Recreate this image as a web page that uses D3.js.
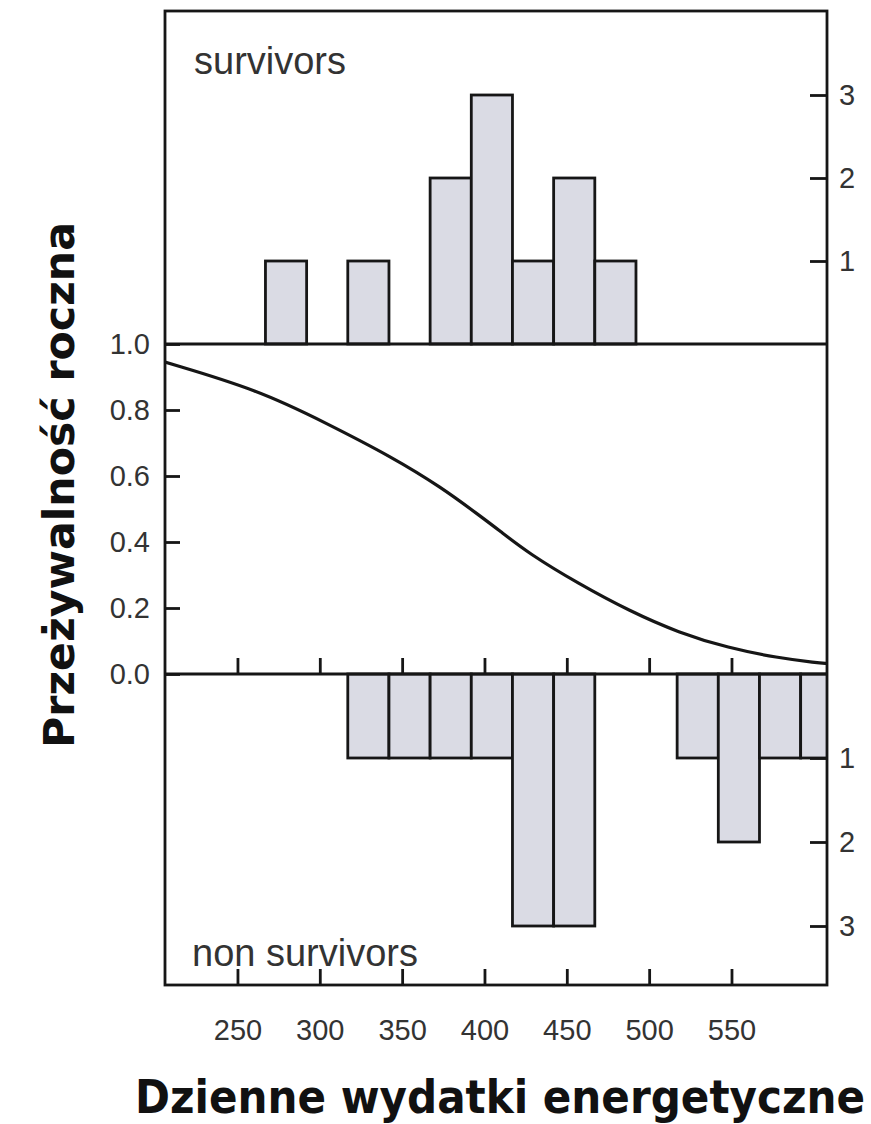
<!DOCTYPE html>
<html>
<head>
<meta charset="utf-8">
<script src="https://cdn.jsdelivr.net/npm/d3@7"></script>
<style>
  body { margin: 0; background: #fff; }
  svg { display: block; }
</style>
</head>
<body>
<svg id="chart" width="871" height="1124"></svg>
<script>
let width = 871, height = 1124;

// bins of 25 units, lower edge
let survStarts = [267, 292, 317, 342, 367, 392, 417, 442, 467];
let survCounts = [1, 0, 1, 0, 2, 3, 1, 2, 1];

let nonStarts = [317, 342, 367, 392, 417, 442, 467, 492, 517, 542, 567, 592];
let nonCounts = [1, 1, 1, 1, 3, 3, 0, 0, 1, 2, 1, 1];
let binWidth = 25;

// survival curve
let curveX = [206, 263, 304, 344, 374, 397, 409, 427, 457, 488, 518, 548, 578, 602, 608];
let curveY = [0.945, 0.86, 0.76, 0.657, 0.565, 0.48, 0.435, 0.365, 0.274, 0.191, 0.125, 0.079, 0.049, 0.034, 0.032];

let xTicks = [250, 300, 350, 400, 450, 500, 550];
let survTicks = [0, 0.2, 0.4, 0.6, 0.8, 1.0];
let countTicks = [1, 2, 3];

let frameL = 165, frameR = 827, frameT = 11, frameB = 985;
let midTop = 344, midBottom = 674;

let ink = "#161616", grey = "#333333";
let tickFont = "'Liberation Sans', Arial, sans-serif";

let svg = d3.select('#chart');

let x = d3.scaleLinear().domain([206, 608]).range([frameL, frameR]);
let yTop = d3.scaleLinear().domain([0, 3]).range([midTop, 95]);
let yMid = d3.scaleLinear().domain([0, 1]).range([midBottom, midTop]);
let yBot = d3.scaleLinear().domain([0, 3]).range([midBottom, 926]);

svg.append('clipPath').attr('id', 'frameclip')
  .append('rect')
  .attr('x', frameL).attr('y', frameT)
  .attr('width', frameR - frameL).attr('height', frameB - frameT);

let plot = svg.append('g').attr('clip-path', 'url(#frameclip)');

// survivors (upward)
plot.append('g')
  .selectAll('rect')
  .data(survStarts.map((s, i) => ({start: s, n: survCounts[i]})).filter(d => d.n > 0))
  .enter().append('rect')
  .attr('x', d => x(d.start))
  .attr('y', d => yTop(d.n))
  .attr('width', d => x(d.start + binWidth) - x(d.start))
  .attr('height', d => yTop(0) - yTop(d.n))
  .attr('fill', '#dadbe4')
  .attr('stroke', ink)
  .attr('stroke-width', 2.8);

// non survivors (downward)
plot.append('g')
  .selectAll('rect')
  .data(nonStarts.map((s, i) => ({start: s, n: nonCounts[i]})).filter(d => d.n > 0))
  .enter().append('rect')
  .attr('x', d => x(d.start))
  .attr('y', yBot(0))
  .attr('width', d => x(d.start + binWidth) - x(d.start))
  .attr('height', d => yBot(d.n) - yBot(0))
  .attr('fill', '#dadbe4')
  .attr('stroke', ink)
  .attr('stroke-width', 2.8);

// survival curve
let line = d3.line()
  .x((d, i) => x(curveX[i]))
  .y(d => yMid(d))
  .curve(d3.curveBasis);

plot.append('path')
  .datum(curveY)
  .attr('d', line)
  .attr('fill', 'none')
  .attr('stroke', ink)
  .attr('stroke-width', 3.2);

// panel separators
[midTop, midBottom].forEach(function(yy) {
  svg.append('line')
    .attr('x1', frameL).attr('x2', frameR)
    .attr('y1', yy).attr('y2', yy)
    .attr('stroke', ink).attr('stroke-width', 3.2);
});

// frame
svg.append('rect')
  .attr('x', frameL).attr('y', frameT)
  .attr('width', frameR - frameL).attr('height', frameB - frameT)
  .attr('fill', 'none')
  .attr('stroke', ink)
  .attr('stroke-width', 2.8);

function styleAxis(g) {
  g.select('.domain').remove();
  g.attr('font-family', tickFont).attr('font-size', 29);
  g.selectAll('.tick line').attr('stroke', ink).attr('stroke-width', 2.8);
  g.selectAll('.tick text').attr('fill', grey);
}

// left axis of the survival panel
svg.append('g')
  .attr('transform', 'translate(' + frameL + ',0)')
  .call(d3.axisLeft(yMid).tickValues(survTicks).tickFormat(d3.format('.1f')).tickSize(-15).tickPadding(15))
  .call(styleAxis);

// ticks at the bottom of the survival panel (no labels)
svg.append('g')
  .attr('transform', 'translate(0,' + midBottom + ')')
  .call(d3.axisBottom(x).tickValues(xTicks).tickFormat('').tickSize(-16))
  .call(styleAxis);

// bottom x axis
svg.append('g')
  .attr('transform', 'translate(0,' + frameB + ')')
  .call(d3.axisBottom(x).tickValues(xTicks).tickSize(-16).tickPadding(34))
  .call(styleAxis);

// right count axes
svg.append('g')
  .attr('transform', 'translate(' + frameR + ',0)')
  .call(d3.axisRight(yTop).tickValues(countTicks).tickFormat(d3.format('d')).tickSize(-17).tickPadding(12))
  .call(styleAxis);

svg.append('g')
  .attr('transform', 'translate(' + frameR + ',0)')
  .call(d3.axisRight(yBot).tickValues(countTicks).tickFormat(d3.format('d')).tickSize(-17).tickPadding(12))
  .call(styleAxis);

// panel labels
svg.append('text')
  .attr('x', 194).attr('y', 74)
  .attr('font-family', tickFont).attr('font-size', 38)
  .attr('fill', grey)
  .text('survivors');

svg.append('text')
  .attr('x', 192).attr('y', 966)
  .attr('font-family', tickFont).attr('font-size', 38)
  .attr('fill', grey)
  .text('non survivors');

// axis titles
svg.append('text')
  .attr('transform', 'translate(74,485) rotate(-90)')
  .attr('text-anchor', 'middle')
  .attr('font-family', "'DejaVu Sans', Verdana, sans-serif")
  .attr('font-weight', 'bold')
  .attr('font-size', 43)
  .attr('textLength', 526)
  .attr('lengthAdjust', 'spacingAndGlyphs')
  .attr('fill', '#111')
  .text('Przeżywalność roczna');

svg.append('text')
  .attr('x', 500).attr('y', 1113)
  .attr('text-anchor', 'middle')
  .attr('font-family', "'DejaVu Sans Condensed', 'DejaVu Sans', sans-serif")
  .attr('font-stretch', 'condensed')
  .attr('font-weight', 'bold')
  .attr('font-size', 47)
  .attr('textLength', 730)
  .attr('lengthAdjust', 'spacingAndGlyphs')
  .attr('fill', '#111')
  .text('Dzienne wydatki energetyczne');
</script>
</body>
</html>
